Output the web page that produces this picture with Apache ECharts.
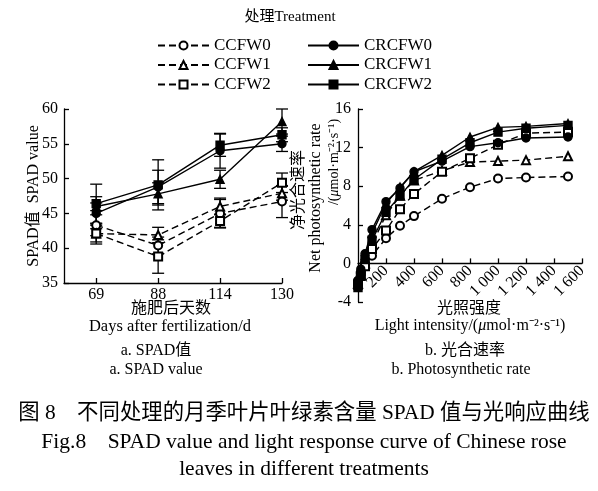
<!DOCTYPE html>
<html><head><meta charset="utf-8">
<script src="https://cdn.jsdelivr.net/npm/echarts@6/dist/echarts.min.js"></script>
<style>html,body{margin:0;padding:0;background:#fff}#c{width:598px;height:491px}</style>
</head><body><div id="c"></div>
<script>
// ---- data: SPAD panel ----
const days = ['69', '88', '114', '130'];
const spadCCFW0 = [43.3, 40.4, 45.0, 46.7];
const spadCCFW1 = [42.1, 41.9, 46.0, 47.9];
const spadCCFW2 = [42.1, 38.8, 43.9, 49.4];
const spadCRCFW0 = [45.0, 48.8, 54.0, 55.0];
const spadCRCFW1 = [46.0, 47.8, 49.9, 58.2];
const spadCRCFW2 = [46.4, 49.1, 54.8, 56.3];
const errCCFW0 = [1.5, 1.2, 2.0, 2.3];
const errCCFW1 = [1.2, 1.1, 1.2, 1.0];
const errCCFW2 = [1.5, 2.4, 1.0, 1.4];
const errCRCFW0 = [1.5, 2.4, 2.5, 1.1];
const errCRCFW1 = [3.2, 1.6, 1.3, 1.8];
const errCRCFW2 = [1.0, 3.6, 1.6, 1.0];
// ---- data: light response panel ----
const light = [0, 20, 50, 100, 200, 300, 400, 600, 800, 1000, 1200, 1500];
const pnCCFW0 = [-1.8, -1.0, -0.2, 0.8, 2.6, 3.9, 4.9, 6.7, 7.9, 8.8, 8.9, 9.0];
const pnCCFW1 = [-2.1, -1.2, 0.0, 2.0, 5.0, 7.0, 8.6, 9.6, 10.5, 10.6, 10.7, 11.1];
const pnCCFW2 = [-2.2, -1.3, -0.3, 1.5, 3.4, 5.6, 7.2, 9.5, 10.9, 12.3, 13.5, 13.6];
const pnCRCFW0 = [-1.8, -0.6, 1.0, 3.5, 6.4, 7.8, 9.5, 10.6, 12.1, 12.5, 13.0, 13.1];
const pnCRCFW1 = [-2.0, -0.8, 0.8, 3.1, 6.2, 7.9, 9.5, 11.2, 13.1, 14.1, 14.2, 14.5];
const pnCRCFW2 = [-2.5, -1.2, 0.4, 2.4, 5.3, 7.0, 8.7, 10.8, 12.5, 13.6, 14.0, 14.3];
const lightTicks = ['', '200', '400', '600', '800', '1 000', '1 200', '1 400', '1 600'];

const FONT = "'Liberation Serif', 'Noto Sans CJK SC', serif";
const names = ['CCFW0', 'CCFW1', 'CCFW2', 'CRCFW0', 'CRCFW1', 'CRCFW2'];
const symbols = ['emptyCircle', 'emptyTriangle', 'emptyRect', 'circle', 'triangle', 'rect'];
const spadSets = [spadCCFW0, spadCCFW1, spadCCFW2, spadCRCFW0, spadCRCFW1, spadCRCFW2];
const errSets = [errCCFW0, errCCFW1, errCCFW2, errCRCFW0, errCRCFW1, errCRCFW2];
const pnSets = [pnCCFW0, pnCCFW1, pnCCFW2, pnCRCFW0, pnCRCFW1, pnCRCFW2];

function lineStyleFor(i) {
  return { color: '#000', width: 1.4, type: i < 3 ? [7, 4] : 'solid' };
}

const series = [];
// error bars
series.push({
  type: 'custom', xAxisIndex: 0, yAxisIndex: 0, silent: true, z: 1,
  data: errSets.flatMap((es, i) => es.map((e, j) => [j, spadSets[i][j], e])),
  renderItem: function (params, api) {
    const x = api.value(0), v = api.value(1), e = api.value(2);
    const hi = api.coord([x, v + e]), lo = api.coord([x, v - e]);
    const w = 6;
    const st = { stroke: '#000', lineWidth: 1.3 };
    return { type: 'group', children: [
      { type: 'line', shape: { x1: hi[0], y1: hi[1], x2: lo[0], y2: lo[1] }, style: st },
      { type: 'line', shape: { x1: hi[0] - w, y1: hi[1], x2: hi[0] + w, y2: hi[1] }, style: st },
      { type: 'line', shape: { x1: lo[0] - w, y1: lo[1], x2: lo[0] + w, y2: lo[1] }, style: st }
    ]};
  }
});
names.forEach((n, i) => {
  series.push({
    name: n, type: 'line', xAxisIndex: 0, yAxisIndex: 0, z: 3,
    data: spadSets[i].map((v, j) => [j, v]),
    symbol: symbols[i], symbolSize: 8, showAllSymbol: true,
    lineStyle: lineStyleFor(i), itemStyle: { color: '#000', borderColor: '#000', borderWidth: 1.4 },
    emphasis: { disabled: true }, animation: false
  });
  series.push({
    name: n, type: 'line', xAxisIndex: 1, yAxisIndex: 1, z: 3,
    data: pnSets[i].map((v, j) => [light[j], v]),
    symbol: symbols[i], symbolSize: 8, showAllSymbol: true,
    lineStyle: lineStyleFor(i), itemStyle: { color: '#000', borderColor: '#000', borderWidth: 1.4 },
    emphasis: { disabled: true }, animation: false
  });
});

const axisLine = { lineStyle: { color: '#000', width: 1.3 } };
const axisTick = { inside: true, length: 5, lineStyle: { color: '#000', width: 1.3 } };
const label = { color: '#000', fontFamily: FONT, fontSize: 16 };

function txt(x, y, text, opts) {
  return Object.assign({ type: 'text', x: x, y: y, style: Object.assign({
    text: text, fill: '#000', font: '15px ' + FONT, textAlign: 'center', textVerticalAlign: 'middle'
  }, opts || {}) });
}
function vtxt(x, y, text, size) {
  return { type: 'text', x: x, y: y, rotation: Math.PI / 2, style: {
    text: text, fill: '#000', font: (size || 15) + 'px ' + FONT, textAlign: 'center', textVerticalAlign: 'middle' } };
}

const legendText = { fontFamily: FONT, fontSize: 17, color: '#000', lineHeight: 14 };
const option = {
  backgroundColor: '#fff',
  animation: false,
  grid: [
    { left: 64, right: 316, top: 109, bottom: 208 },
    { left: 358, right: 16, top: 109, bottom: 189 }
  ],
  legend: [
    { data: names.slice(0, 3), orient: 'vertical', left: 157, top: 37, padding: 0, itemWidth: 51, itemHeight: 10, itemGap: 2.5,
      selectedMode: false, textStyle: legendText },
    { data: names.slice(3), orient: 'vertical', left: 307, top: 37, padding: 0, itemWidth: 51, itemHeight: 10, itemGap: 2.5,
      selectedMode: false, textStyle: legendText }
  ],
  xAxis: [
    { type: 'value', gridIndex: 0, min: -0.52, max: 3, axisLine: Object.assign({ onZero: false }, axisLine), splitLine: { show: false },
      axisTick: Object.assign({ customValues: [0, 1, 2, 3] }, axisTick),
      axisLabel: Object.assign({ customValues: [0, 1, 2, 3], margin: 4, formatter: v => days[Math.round(v)] }, label) },
    { type: 'value', gridIndex: 1, min: 0, max: 1600, interval: 200, offset: -38.6,
      axisLine: Object.assign({ onZero: false }, axisLine),
      splitLine: { show: false }, axisTick: axisTick,
      axisLabel: Object.assign({ rotate: 45, margin: 5, showMinLabel: false, formatter: (v) => lightTicks[Math.round(v / 200)] }, label) }
  ],
  yAxis: [
    { type: 'value', gridIndex: 0, min: 35, max: 60, interval: 5, axisLine: Object.assign({ show: true, onZero: false }, axisLine),
      splitLine: { show: false }, axisTick: axisTick, axisLabel: Object.assign({ margin: 6 }, label) },
    { type: 'value', gridIndex: 1, min: -4, max: 16, interval: 4, axisLine: Object.assign({ show: true, onZero: false }, axisLine),
      splitLine: { show: false }, axisTick: axisTick, axisLabel: Object.assign({ margin: 7 }, label) }
  ],
  series: series,
  graphic: [
    txt(290, 17, '处理Treatment', { font: '15px ' + FONT }),
    vtxt(34, 196, 'SPAD值  SPAD value', 16),
    vtxt(299, 190, '净光合速率', 16),
    vtxt(316, 198, 'Net photosynthetic rate', 16),
    { type: 'text', x: 334, y: 162, rotation: Math.PI / 2, style: {
      text: '/({i|μ}mol·m⁻²·s⁻¹)', fill: '#000', font: '14px ' + FONT, textAlign: 'center', textVerticalAlign: 'middle',
      rich: { i: { fontStyle: 'italic', fontFamily: FONT, fontSize: 14 } } } },
    txt(171, 309, '施肥后天数', { font: '16px ' + FONT }),
    txt(170, 327, 'Days after fertilization/d', { font: '16.5px ' + FONT }),
    txt(156, 351, 'a. SPAD值', { font: '16px ' + FONT }),
    txt(156, 370, 'a. SPAD value', { font: '16px ' + FONT }),
    txt(469, 309, '光照强度', { font: '16px ' + FONT }),
    { type: 'text', x: 470, y: 326, style: { text: 'Light intensity/({i|μ}mol·m⁻²·s⁻¹)', fill: '#000', font: '16px ' + FONT,
      textAlign: 'center', textVerticalAlign: 'middle', rich: { i: { fontStyle: 'italic', fontFamily: FONT, fontSize: 16 } } } },
    txt(465, 351, 'b. 光合速率', { font: '16px ' + FONT }),
    txt(461, 370, 'b. Photosynthetic rate', { font: '16px ' + FONT }),
    txt(304, 413, '图 8　不同处理的月季叶片叶绿素含量 SPAD 值与光响应曲线', { font: '21.4px ' + FONT }),
    txt(304, 442, 'Fig.8    SPAD value and light response curve of Chinese rose', { font: '21.5px ' + FONT }),
    txt(304, 469, 'leaves in different treatments', { font: '21.5px ' + FONT })
  ]
};
const chart = echarts.init(document.getElementById('c'), null, { renderer: 'canvas' });
chart.setOption(option);
</script></body></html>
